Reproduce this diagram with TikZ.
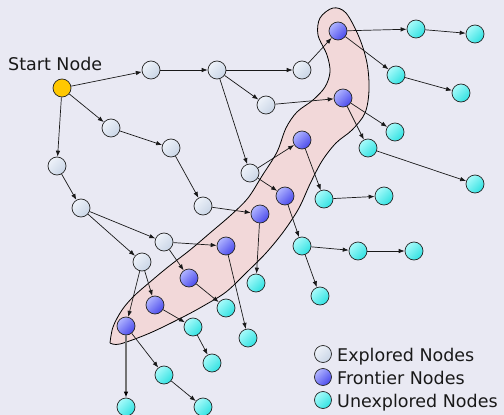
\documentclass[tikz,border=0pt]{standalone}
\usepackage{fontspec}
\setmainfont{DejaVu Sans}
\usetikzlibrary{arrows.meta}
\definecolor{bg}{HTML}{E9E9F3}
\definecolor{blobfill}{HTML}{F2D8D9}
\definecolor{expA}{HTML}{EEF2F9}
\definecolor{expB}{HTML}{C9D5E6}
\definecolor{froA}{HTML}{B0B4FF}
\definecolor{froB}{HTML}{4A4AEC}
\definecolor{unxA}{HTML}{A8FAFA}
\definecolor{unxB}{HTML}{30E2E2}
\definecolor{startc}{HTML}{FFC800}
\begin{document}
\begin{tikzpicture}[x=1pt,y=-1pt,
  vtx/.style={circle, draw=black!85, line width=0.7pt, minimum size=18pt, inner sep=0pt},
  explored/.style={vtx, top color=expA, bottom color=expB, shading angle=45},
  frontier/.style={vtx, top color=froA, bottom color=froB, shading angle=45},
  unexplored/.style={vtx, top color=unxA, bottom color=unxB, shading angle=45},
  startnode/.style={vtx, fill=startc},
  link/.style={-{Latex[length=6pt,width=4.5pt]}, line width=0.7pt, draw=black!90},
  greylink/.style={-{Latex[length=6pt,width=4.5pt,black]}, draw=black!55, line width=1.4pt},
  label/.style={font=\fontsize{17.5}{20}\selectfont, inner sep=0pt, text=black!90}
]
% canvas
\fill[bg] (0,0) rectangle (504,415);
\useasboundingbox (0,0) rectangle (504,415);

% highlighted band around the frontier
\draw[fill=blobfill, line width=0.8pt] plot[smooth, tension=0.55] coordinates {
  (110,343) (113,327) (122,310) (134,296) (150,282) (168,267) (190,250)
  (210,233) (231,215) (248,198) (262,176) (277,152) (286,128) (297,112)
  (313,100) (325,87) (330,72) (327,55) (318,35) (320,18) (333,8)
  (346,13) (359,37) (367,63) (369,90) (365,113) (352,130) (336,143)
  (322,161) (310,184) (299,208) (284,231) (266,253) (246,273) (226,292)
  (205,305) (183,317) (150,333) (120,344) (110,343)};

% explored nodes
\node[startnode]  (s)   at (62,88)  {};
\node[explored]   (e1)  at (151,70) {};
\node[explored]   (e2)  at (217,70) {};
\node[explored]   (e3)  at (302,70) {};
\node[explored]   (e4)  at (111,128) {};
\node[explored]   (e5)  at (171,148) {};
\node[explored]   (e6)  at (57,166) {};
\node[explored]   (e7)  at (81,208) {};
\node[explored]   (e8)  at (266,105) {};
\node[explored]   (e9)  at (250,173) {};
\node[explored]   (e10) at (203,206) {};
\node[explored]   (e11) at (164,242) {};
\node[explored]   (e12) at (142,262) {};

% frontier nodes
\node[frontier] (f1) at (338,31) {};
\node[frontier] (f2) at (343,98) {};
\node[frontier] (f3) at (302,140) {};
\node[frontier] (f4) at (285,196) {};
\node[frontier] (f5) at (260,214) {};
\node[frontier] (f6) at (226,246) {};
\node[frontier] (f7) at (189,278) {};
\node[frontier] (f8) at (155,305) {};
\node[frontier] (f9) at (126,326) {};

% unexplored nodes
\node[unexplored] (u1)  at (416,29) {};
\node[unexplored] (u2)  at (475,34) {};
\node[unexplored] (u3)  at (396,75) {};
\node[unexplored] (u4)  at (461,93) {};
\node[unexplored] (u5)  at (395,132) {};
\node[unexplored] (u6)  at (368,148) {};
\node[unexplored] (u7)  at (475,184) {};
\node[unexplored] (u8)  at (324,199) {};
\node[unexplored] (u9)  at (384,196) {};
\node[unexplored] (u10) at (302,246) {};
\node[unexplored] (u11) at (358,251) {};
\node[unexplored] (u12) at (414,251) {};
\node[unexplored] (u13) at (320,296) {};
\node[unexplored] (u14) at (256,283) {};
\node[unexplored] (u15) at (226,308) {};
\node[unexplored] (u16) at (193,327) {};
\node[unexplored] (u17) at (248,338) {};
\node[unexplored] (u18) at (212,363) {};
\node[unexplored] (u19) at (164,375) {};
\node[unexplored] (u20) at (126,407) {};
\node[unexplored] (u21) at (203,407) {};

% edges
\draw[link] (s) -- (e1);
\draw[link] (s) -- (e4);
\draw[link] (s) -- (e6);
\draw[link] (e1) -- (e2);
\draw[link] (e2) -- (e3);
\draw[link] (e2) -- (e8);
\draw[link] (e2) -- (e9);
\draw[link] (e3) -- (f1);
\draw[link] (e4) -- (e5);
\draw[link] (e5) -- (e10);
\draw[link] (e6) -- (e7);
\draw[link] (e7) -- (e11);
\draw[link] (e7) -- (e12);
\draw[link] (e8) -- (f2);
\draw[link] (e9) -- (f3);
\draw[link] (e9) -- (f4);
\draw[link] (e10) -- (f5);
\draw[link] (e11) -- (f6);
\draw[link] (e11) -- (f7);
\draw[link] (e12) -- (f8);
\draw[link] (e12) -- (f9);
\draw[link] (f1) -- (u1);
\draw[link] (u1) -- (u2);
\draw[link] (f1) -- (u3);
\draw[link] (u3) -- (u4);
\draw[link] (f2) -- (u5);
\draw[link] (f2) -- (u6);
\draw[link] (u6) -- (u7);
\draw[link] (f3) -- (u8);
\draw[link] (u8) -- (u9);
\draw[link] (f4) -- (u10);
\draw[link] (u10) -- (u11);
\draw[link] (u11) -- (u12);
\draw[link] (u10) -- (u13);
\draw[link] (f5) -- (u14);
\draw[link] (f6) -- (u17);
\draw[link] (f7) -- (u15);
\draw[link] (f8) -- (u16);
\draw[link] (u16) -- (u18);
\draw[link] (f9) -- (u19);
\draw[link] (u19) -- (u21);
\draw[greylink] (f9) -- (u20);

% labels
\node[label, anchor=base west] (startlbl) at (8,70) {Start Node};

% legend
\node[explored,   minimum size=17pt] (lg1) at (323,354) {};
\node[frontier,   minimum size=17pt] (lg2) at (323,377) {};
\node[unexplored, minimum size=17pt] (lg3) at (323,400) {};
\node[label, anchor=base west] (lt1) at (337,361) {Explored Nodes};
\node[label, anchor=base west] (lt2) at (337,384) {Frontier Nodes};
\node[label, anchor=base west] (lt3) at (337,407) {Unexplored Nodes};
\end{tikzpicture}
\end{document}
